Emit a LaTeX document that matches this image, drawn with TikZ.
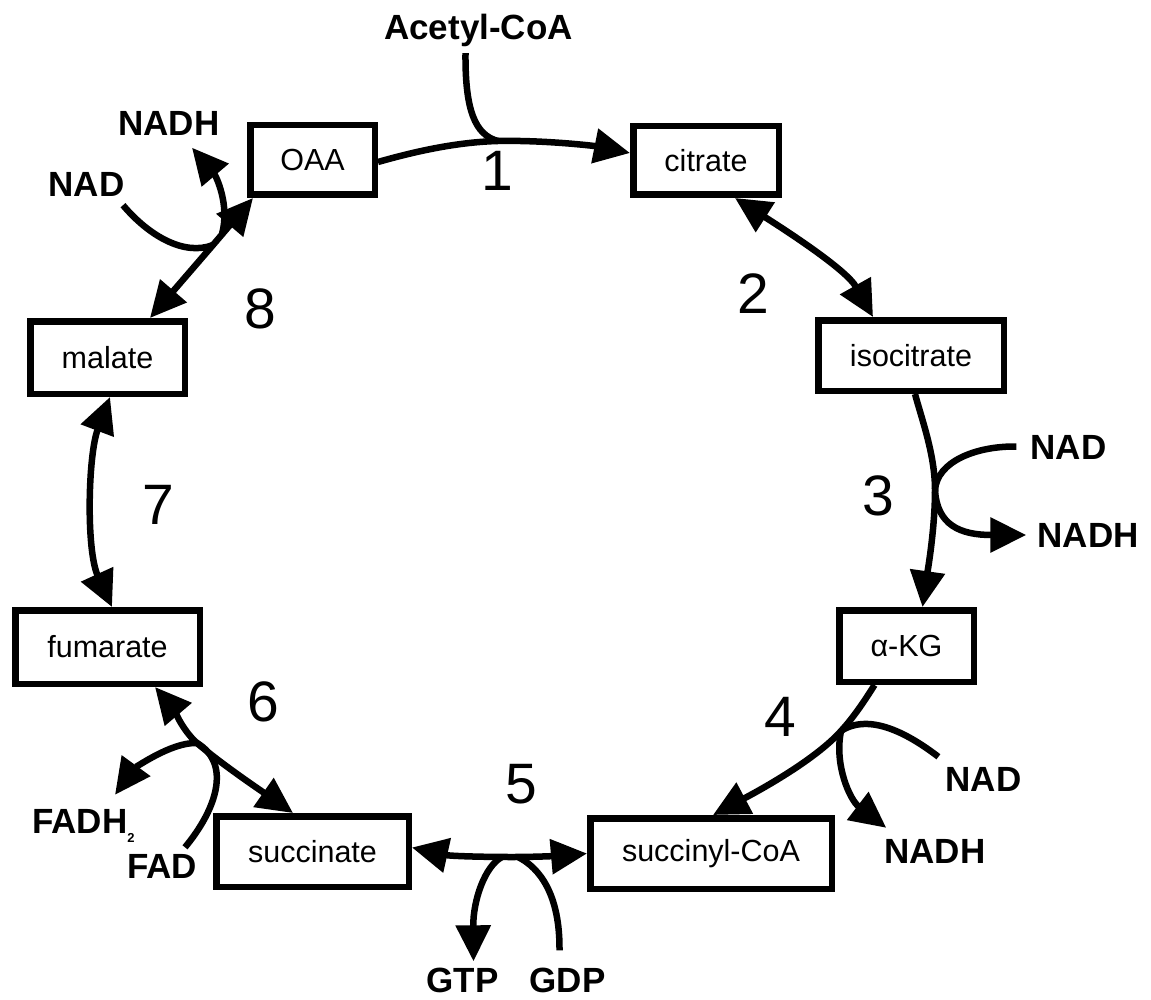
\documentclass[tikz,border=0pt]{standalone}
\usepackage{fontspec}
\setmainfont{Liberation Sans}
\usetikzlibrary{arrows.meta}
\begin{document}
\begin{tikzpicture}[x=1pt,y=-1pt,
  >={Triangle[length=36pt,width=34pt]},
  box/.style={draw, line width=6.5pt, inner sep=0pt, font=\fontsize{30.5}{36}\selectfont},
  conn/.style={line width=6.5pt},
  lbl/.style={inner sep=0pt, font=\bfseries\fontsize{35}{40}\selectfont, text height=25pt, text depth=0pt},
  num/.style={inner sep=0pt, font=\fontsize{57}{60}\selectfont, text height=41pt, text depth=0pt}]
\useasboundingbox[fill=white] (0,0) rectangle (1151,1000);

% boxes
\node[box, minimum width=124.5pt, minimum height=69.5pt] (oaa) at (312.5,160) {OAA};
\node[box, minimum width=145.5pt, minimum height=68.5pt] (citrate) at (706,160.5) {citrate};
\node[box, minimum width=185.5pt, minimum height=70.5pt] (isocitrate) at (911,355.5) {isocitrate};
\node[box, minimum width=134.5pt, minimum height=71.5pt] (akg) at (906.5,646) {α-KG};
\node[box, minimum width=241.5pt, minimum height=70.5pt] (succoa) at (711,853.5) {succinyl-CoA};
\node[box, minimum width=192.5pt, minimum height=70.5pt] (succinate) at (312.5,851.5) {succinate};
\node[box, minimum width=184.5pt, minimum height=73.5pt] (fumarate) at (107.5,647) {fumarate};
\node[box, minimum width=154.5pt, minimum height=72.5pt] (malate) at (107.5,357.5) {malate};

% labels
\node[lbl] (acetyl) at (478.5,27.5) {Acetyl-CoA};
\node[lbl] (nadhC) at (169,123) {NADH};
\node[lbl] (nadC) at (86.5,184.5) {NAD};
\node[lbl] (nadA) at (1068.5,446.5) {NAD};
\node[lbl] (nadhA) at (1088,535) {NADH};
\node[lbl] (nadB) at (983.5,778.5) {NAD};
\node[lbl] (nadhB) at (935,850.5) {NADH};
\node[lbl] (gtp) at (462.5,980) {GTP};
\node[lbl] (gdp) at (567.5,980) {GDP};
\node[lbl, anchor=west] (fadh) at (32,821) {FADH\raisebox{-9pt}{\fontsize{13}{13}\selectfont 2}};
\node[lbl] (fad) at (162,866) {FAD};

% step numbers
\node[num] (n1) at (497,170) {1};
\node[num] (n2) at (753,292.5) {2};
\node[num] (n3) at (878,494.5) {3};
\node[num] (n4) at (780,716) {4};
\node[num] (n5) at (521,782.5) {5};
\node[num] (n6) at (263,701) {6};
\node[num] (n7) at (158,504) {7};
\node[num] (n8) at (260,308) {8};

% junctions
\coordinate (j1) at (498,141);
\coordinate (j3) at (935,490);
\coordinate (j4) at (841,731);
\coordinate (j5) at (512,857);
\coordinate (j6) at (197,743);
\coordinate (j8) at (213,245);
\coordinate (j8b) at (222,234);

% 1
\draw[conn,->] ([yshift=-2pt]oaa.east) .. controls (420,150) and (460,142) .. (j1)
  .. controls (545,140) and (595,146) .. ([yshift=7.5pt]citrate.west);
\draw[conn] ([xshift=-13pt,yshift=-13pt]acetyl.south) .. controls (465,110) and (475,135) .. (j1);

% 2
\draw[conn,<->] ([xshift=29pt]citrate.south) .. controls (782,228) and (846,269) .. ([xshift=-38pt]isocitrate.north);

% 3
\draw[conn,->] ([xshift=4pt]isocitrate.south) .. controls (922,420) and (935,455) .. (j3)
  .. controls (935,530) and (927,575) .. ([xshift=16pt]akg.north);
\draw[conn] ([xshift=-14pt]nadA.west) .. controls (975,446) and (937,462) .. (j3);
\draw[conn,->] (j3) .. controls (937,525) and (960,535) .. ([xshift=-11pt]nadhA.west);

% 4
\draw[conn,->] ([xshift=-32pt]akg.south) .. controls (862,705) and (852,719) .. (j4)
  .. controls (815,760) and (760,790) .. ([xshift=2pt]succoa.north);
\draw[conn] ([xshift=-7pt,yshift=9pt]nadB.north west) .. controls (910,735) and (870,712) .. (j4);
\draw[conn,->] (j4) .. controls (834,765) and (850,800) .. ([xshift=2pt,yshift=10pt]nadhB.north west);

% 5
\draw[conn,<->] ([yshift=4pt]succinate.east) .. controls (450,856) and (480,857) .. (j5)
  .. controls (545,857) and (570,855) .. (succoa.west);
\draw[conn,->] ([xshift=-10pt]j5) .. controls (485,866) and (473,900) .. ([xshift=11pt,yshift=6pt]gtp.north);
\draw[conn] ([xshift=6pt]j5) .. controls (540,868) and (560,895) .. ([xshift=-8pt,yshift=17pt]gdp.north);

% 6
\draw[conn,<->] ([xshift=47.5pt]fumarate.south) .. controls (172,707) and (183,731) .. (j6)
  .. controls (220,763) and (260,790) .. ([xshift=-19.5pt]succinate.north);
\draw[conn,->] (j6) .. controls (170,742) and (133,770) .. ([xshift=83pt,yshift=13.5pt]fadh.north west);
\draw[conn] ([xshift=23pt,yshift=6pt]fad.north) .. controls (216,810) and (232,764) .. (j6);

% 7
\draw[conn,<->] ([xshift=2.5pt]malate.south) .. controls (88,455) and (86,550) .. ([xshift=4.5pt]fumarate.north);

% 8
\draw[conn,<->] ([xshift=-59.5pt]oaa.south) -- (j8) -- ([xshift=42.5pt]malate.north);
\draw[conn] ([xshift=36.5pt,yshift=-8pt]nadC.south) .. controls (150,237) and (185,256) .. (j8);
\draw[conn,->] (j8b) .. controls (230,205) and (216,176) .. ([xshift=23pt,yshift=-12pt]nadhC.south);
\end{tikzpicture}
\end{document}
